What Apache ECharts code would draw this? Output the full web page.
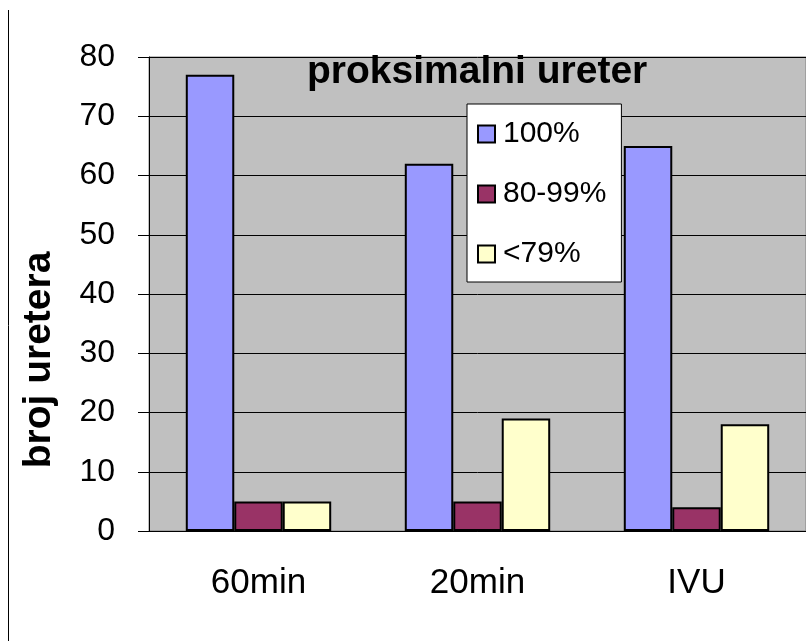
<!DOCTYPE html>
<html>
<head>
<meta charset="utf-8">
<script src="https://cdn.jsdelivr.net/npm/echarts@6/dist/echarts.min.js"></script>
<style>
  html, body { margin: 0; padding: 0; background: #fff; }
  #main { width: 806px; height: 641px; }
</style>
</head>
<body>
<div id="main"></div>
<script>
const categories = ['60min', '20min', 'IVU'];
const full = [77, 62, 65];
const partial = [5, 5, 4];
const low = [5, 19, 18];
const seriesNames = ['100%', '80-99%', '<79%'];

let myChart = echarts.init(document.querySelector('#main'), null, { renderer: 'canvas' });

const font = 'Liberation Sans, Arial, sans-serif';

let option = {
  animation: false,
  backgroundColor: '#ffffff',
  title: {
    text: 'proksimalni ureter',
    left: 307,
    top: 53,
    padding: 0,
    textStyle: { fontFamily: font, fontSize: 39, fontWeight: 'bold', color: '#000', lineHeight: 39 }
  },
  legend: {
    orient: 'vertical',
    left: 467,
    top: 104,
    backgroundColor: '#ffffff',
    borderColor: '#000',
    borderWidth: 1,
    padding: [15, 15, 13, 10],
    itemWidth: 17,
    itemHeight: 17,
    itemGap: 30,
    icon: 'rect',
    textStyle: { fontFamily: font, fontSize: 30, lineHeight: 30, color: '#000', padding: [0, 0, 0, 3] },
    data: seriesNames
  },
  grid: {
    show: true,
    left: 149,
    top: 57,
    width: 669,
    height: 474,
    backgroundColor: '#c0c0c0',
    borderColor: '#808080',
    borderWidth: 1
  },
  xAxis: {
    type: 'category',
    data: categories,
    axisLine: { lineStyle: { color: '#000', width: 1 } },
    axisTick: { length: 10, lineStyle: { color: '#000' } },
    axisLabel: { margin: 35, fontFamily: font, fontSize: 35, color: '#000' }
  },
  yAxis: {
    type: 'value',
    min: 0,
    max: 80,
    interval: 10,
    name: 'broj uretera',
    nameLocation: 'middle',
    nameGap: 90,
    nameTextStyle: {
      fontFamily: font, fontSize: 39, fontWeight: 'bold', color: '#000',
      lineHeight: 39, padding: [0, 132, 0, 0]
    },
    axisLine: { show: true, lineStyle: { color: '#000', width: 1 } },
    axisTick: { show: true, length: 11, lineStyle: { color: '#000' } },
    axisLabel: { margin: 34, fontFamily: font, fontSize: 32, color: '#000' },
    splitLine: { lineStyle: { color: '#000', width: 1 } }
  },
  series: [
    {
      name: seriesNames[0], type: 'bar', data: full,
      barGap: '0%', barCategoryGap: '33.6%',
      itemStyle: { color: '#9999ff', borderColor: '#000', borderWidth: 2 }
    },
    {
      name: seriesNames[1], type: 'bar', data: partial,
      barGap: '0%', barCategoryGap: '33.6%',
      itemStyle: { color: '#993366', borderColor: '#000', borderWidth: 2 }
    },
    {
      name: seriesNames[2], type: 'bar', data: low,
      barGap: '0%', barCategoryGap: '33.6%',
      itemStyle: { color: '#ffffcc', borderColor: '#000', borderWidth: 2 }
    }
  ],
  graphic: [
    {
      type: 'line',
      shape: { x1: 8.5, y1: 10, x2: 8.5, y2: 641 },
      style: { stroke: '#000', lineWidth: 1 }
    }
  ]
};

myChart.setOption(option);
</script>
</body>
</html>
